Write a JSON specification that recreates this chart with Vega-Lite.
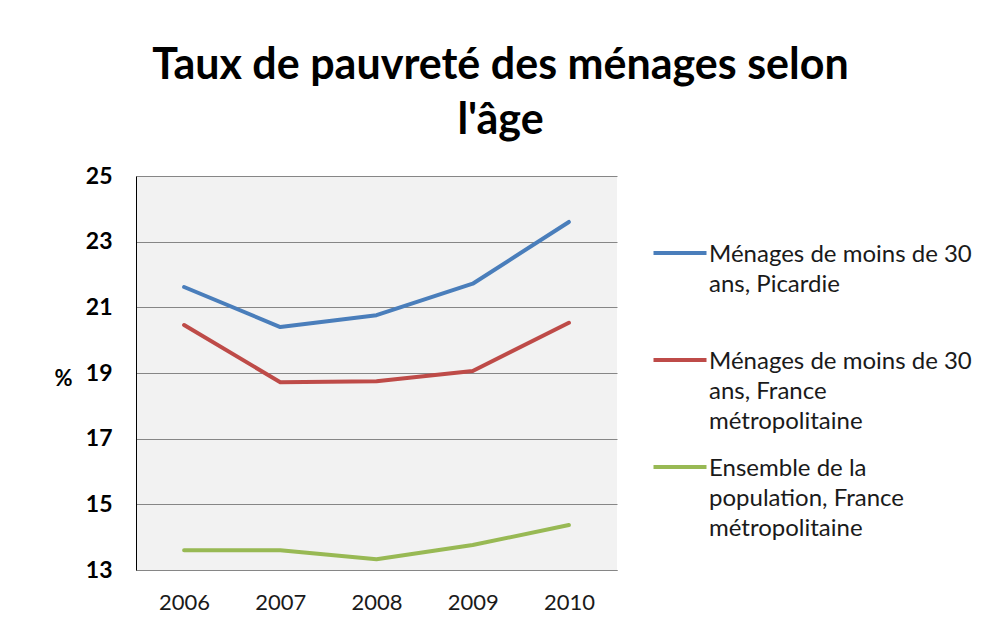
{
  "$schema": "https://vega.github.io/schema/vega-lite/v6.json",
  "width": 481,
  "height": 394,
  "autosize": {"type": "none"},
  "padding": {"left": 136, "top": 176, "right": 364, "bottom": 57},
  "background": "white",
  "title": {
    "text": ["Taux de pauvreté des ménages selon", "l'âge"],
    "font": "Lato",
    "fontSize": 43,
    "fontWeight": "bold",
    "color": "black",
    "lineHeight": 55,
    "anchor": "middle",
    "frame": "group",
    "dx": 124,
    "offset": 22
  },
  "data": {
    "values": [
      {"year": "2006", "series": "Ménages de moins de 30 ans, Picardie", "value": 21.62},
      {"year": "2007", "series": "Ménages de moins de 30 ans, Picardie", "value": 20.4},
      {"year": "2008", "series": "Ménages de moins de 30 ans, Picardie", "value": 20.76},
      {"year": "2009", "series": "Ménages de moins de 30 ans, Picardie", "value": 21.72},
      {"year": "2010", "series": "Ménages de moins de 30 ans, Picardie", "value": 23.6},
      {"year": "2006", "series": "Ménages de moins de 30 ans, France métropolitaine", "value": 20.46},
      {"year": "2007", "series": "Ménages de moins de 30 ans, France métropolitaine", "value": 18.72},
      {"year": "2008", "series": "Ménages de moins de 30 ans, France métropolitaine", "value": 18.75},
      {"year": "2009", "series": "Ménages de moins de 30 ans, France métropolitaine", "value": 19.06},
      {"year": "2010", "series": "Ménages de moins de 30 ans, France métropolitaine", "value": 20.53},
      {"year": "2006", "series": "Ensemble de la population, France métropolitaine", "value": 13.6},
      {"year": "2007", "series": "Ensemble de la population, France métropolitaine", "value": 13.6},
      {"year": "2008", "series": "Ensemble de la population, France métropolitaine", "value": 13.33},
      {"year": "2009", "series": "Ensemble de la population, France métropolitaine", "value": 13.76},
      {"year": "2010", "series": "Ensemble de la population, France métropolitaine", "value": 14.37}
    ]
  },
  "mark": {"type": "line", "strokeWidth": 4, "strokeCap": "round", "strokeJoin": "round"},
  "encoding": {
    "x": {
      "field": "year",
      "type": "ordinal",
      "scale": {"type": "point", "padding": 0.5},
      "axis": {
        "title": null,
        "labelAngle": 0,
        "ticks": false,
        "domainColor": "#868686",
        "domainWidth": 1,
        "labelFont": "Lato",
        "labelFontSize": 22,
        "labelColor": "#1a1a1a",
        "labelPadding": 22,
        "grid": false
      }
    },
    "y": {
      "field": "value",
      "type": "quantitative",
      "scale": {"domain": [13, 25], "nice": false, "zero": false},
      "axis": {
        "values": [13, 15, 17, 19, 21, 23, 25],
        "title": "%",
        "titleAngle": 0,
        "titleAlign": "center",
        "titleBaseline": "middle",
        "titleX": -73,
        "titleY": 202,
        "titleFont": "Lato",
        "titleFontSize": 22,
        "titleFontWeight": "bold",
        "titleColor": "black",
        "ticks": false,
        "domainColor": "black",
        "domainWidth": 1,
        "gridColor": "#868686",
        "gridWidth": 1,
        "gridOpacity": 1,
        "labelFont": "Lato",
        "labelFontSize": 23,
        "labelFontWeight": "bold",
        "labelColor": "black",
        "labelPadding": 24
      }
    },
    "color": {
      "field": "series",
      "type": "nominal",
      "scale": {
        "domain": [
          "Ménages de moins de 30 ans, Picardie",
          "Ménages de moins de 30 ans, France métropolitaine",
          "Ensemble de la population, France métropolitaine"
        ],
        "range": ["#4a7ebb", "#be4b48", "#98b954"]
      },
      "legend": {
        "title": null,
        "orient": "none",
        "legendX": 532,
        "legendY": 55,
        "padding": 0,
        "gridAlign": "all",
        "rowPadding": 11,
        "symbolType": "M-2.65,1L2.65,1",
        "symbolSize": 400,
        "symbolStrokeWidth": 4,
        "symbolOffset": 0,
        "labelOffset": 17,
        "labelBaseline": "top",
        "labelFont": "Lato",
        "labelFontSize": 24,
        "labelColor": "#1a1a1a",
        "labelLimit": 400,
        "labelExpr": "datum.label == 'Ménages de moins de 30 ans, Picardie' ? ['Ménages de moins de 30', 'ans, Picardie'] : datum.label == 'Ménages de moins de 30 ans, France métropolitaine' ? ['Ménages de moins de 30', 'ans, France', 'métropolitaine'] : ['Ensemble de la', 'population, France', 'métropolitaine']"
      }
    }
  },
  "config": {
    "view": {"fill": "#f2f2f2", "stroke": null},
    "style": {"guide-label": {"lineHeight": 30}}
  }
}
